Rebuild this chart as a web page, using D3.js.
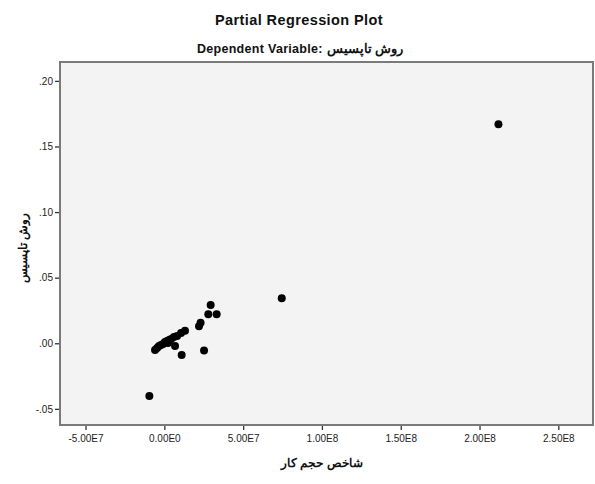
<!DOCTYPE html>
<html>
<head>
<meta charset="utf-8">
<script src="https://cdn.jsdelivr.net/npm/d3@7"></script>
<style>
  body { margin: 0; background: #fff; }
  svg text { font-family: "Liberation Sans", Arial, sans-serif; }
</style>
</head>
<body>
<svg id="chart" width="595" height="484"></svg>
<script>
// Partial regression residuals: workload index (x) vs. TOPSIS method (y)
const xValues = [
  2.12e8, 7.45e7, 2.94e7, 2.79e7, 3.32e7, 2.2e7, 2.3e7, 2.52e7,
  1.10e7, 1.31e7, -0.95e7,
  -0.59e7, -0.46e7, -0.34e7, -0.21e7, -0.08e7, 0.04e7, 0.17e7,
  0.30e7, 0.43e7, 0.61e7, 0.81e7, 1.06e7, 0.68e7, 0.23e7
];
const yValues = [
  0.167, 0.0343, 0.0292, 0.0221, 0.0221, 0.013, 0.0157, -0.0056,
  -0.0089, 0.0096, -0.0402,
  -0.0051, -0.0036, -0.0021, -0.0013, -0.0005, 0.001, 0.0018,
  0.0025, 0.0033, 0.0048, 0.0056, 0.0079, -0.0021, 0.0002
];
const xTicks = [-5e7, 0, 5e7, 1e8, 1.5e8, 2e8, 2.5e8];
const xTickLabels = ["-5.00E7", "0.00E0", "5.00E7", "1.00E8", "1.50E8", "2.00E8", "2.50E8"];
const yTicks = [-0.05, 0, 0.05, 0.10, 0.15, 0.20];
const yTickLabels = ["-.05", ".00", ".05", ".10", ".15", ".20"];

const titleText = "Partial Regression Plot";
const subtitleText = "Dependent Variable: روش تاپسیس";
const xLabel = "شاخص حجم کار";
const yLabel = "روش تاپسیس";

const svg = d3.select("#chart");
const frame = { left: 60, top: 62, right: 593, bottom: 425 };

const x = d3.scaleLinear().domain([-6.62e7, 2.72e8]).range([frame.left, frame.right]);
const y = d3.scaleLinear().domain([-0.0623, 0.2144]).range([frame.bottom, frame.top]);

// titles
svg.append("text").attr("x", 299).attr("y", 25).attr("text-anchor", "middle")
  .attr("font-size", 14.5).attr("font-weight", "bold").attr("fill", "#111")
  .attr("letter-spacing", 0.4).text(titleText);
svg.append("text").attr("x", 300).attr("y", 53).attr("text-anchor", "middle")
  .attr("font-size", 12.5).attr("font-weight", "bold").attr("fill", "#111")
  .attr("letter-spacing", 0.3).text(subtitleText);

// plot area background
svg.append("rect")
  .attr("x", frame.left).attr("y", frame.top)
  .attr("width", frame.right - frame.left).attr("height", frame.bottom - frame.top)
  .attr("fill", "#f3f3f3");

// axes
const xAxis = d3.axisBottom(x).tickValues(xTicks)
  .tickFormat((d, i) => xTickLabels[i]).tickSize(5).tickSizeOuter(0);
const yAxis = d3.axisLeft(y).tickValues(yTicks)
  .tickFormat((d, i) => yTickLabels[i]).tickSize(5).tickSizeOuter(0);

const gx = svg.append("g").attr("transform", `translate(0,${frame.bottom})`).call(xAxis);
gx.select(".domain").remove();
gx.selectAll(".tick line").attr("stroke", "#333").attr("stroke-width", 1.3);
gx.selectAll(".tick text").attr("font-size", 10).attr("fill", "#222")
  .attr("font-family", "\"Liberation Sans\", Arial, sans-serif").attr("dy", "0.85em");

const gy = svg.append("g").attr("transform", `translate(${frame.left},0)`).call(yAxis);
gy.select(".domain").remove();
gy.selectAll(".tick line").attr("stroke", "#333").attr("stroke-width", 1.3);
gy.selectAll(".tick text").attr("font-size", 10).attr("fill", "#222")
  .attr("font-family", "\"Liberation Sans\", Arial, sans-serif").attr("x", -7);

// frame
svg.append("rect")
  .attr("x", frame.left).attr("y", frame.top)
  .attr("width", frame.right - frame.left).attr("height", frame.bottom - frame.top)
  .attr("fill", "none").attr("stroke", "#7a7a7a").attr("stroke-width", 2);

// points
svg.append("g").selectAll("circle")
  .data(xValues.map((v, i) => [v, yValues[i]]))
  .join("circle")
  .attr("cx", d => x(d[0])).attr("cy", d => y(d[1]))
  .attr("r", 4).attr("fill", "#000");

// axis titles
svg.append("text").attr("x", 322).attr("y", 467).attr("text-anchor", "middle")
  .attr("font-size", 12).attr("font-weight", "bold").attr("fill", "#111").text(xLabel);
svg.append("text").attr("transform", "translate(23,248) rotate(-90)")
  .attr("text-anchor", "middle").attr("dy", "0.35em")
  .attr("font-size", 11.5).attr("font-weight", "bold").attr("fill", "#111").text(yLabel);
</script>
</body>
</html>
